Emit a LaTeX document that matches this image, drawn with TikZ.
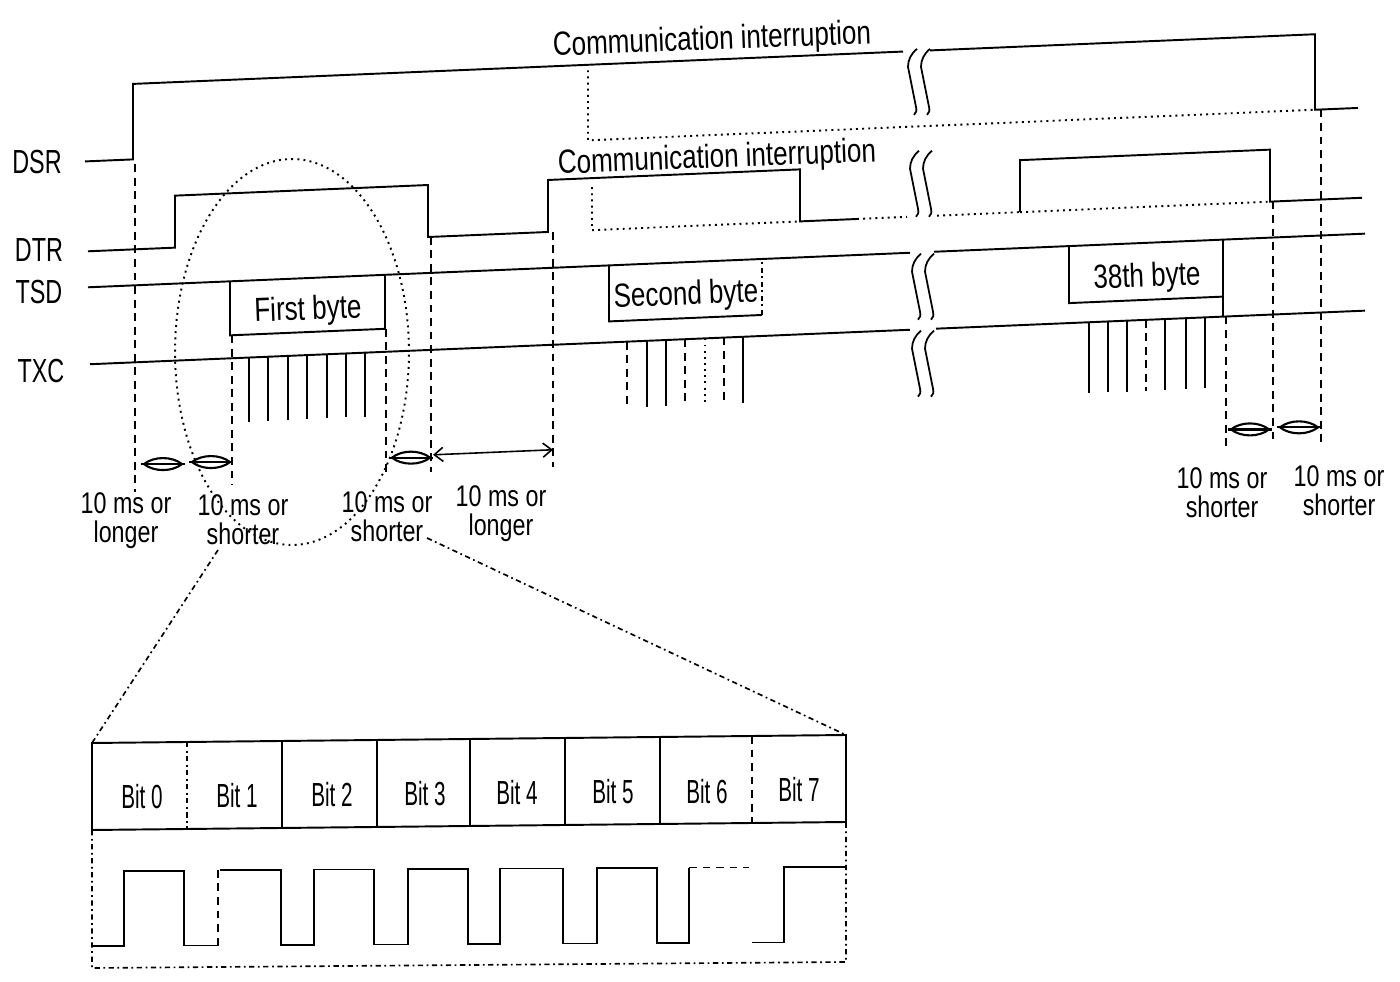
\documentclass[tikz,border=0pt]{standalone}
\usepackage{fontspec}
\setmainfont[FakeStretch=0.78]{Liberation Sans}
\newfontfamily\lblfont[FakeStretch=0.7]{Liberation Sans}
\newfontfamily\bitfont[FakeStretch=0.62]{Liberation Sans}
\usetikzlibrary{arrows.meta}
\begin{document}
\begin{tikzpicture}[x=0.02cm,y=-0.02cm,
  sig/.style={line width=1.1pt, line join=miter},
  pulse/.style={line width=1pt},
  dsh/.style={line width=0.85pt, dash pattern=on 4.5pt off 3.2pt},
  dot/.style={line width=1.1pt, dash pattern=on 1.1pt off 2.4pt},
  ddot/.style={line width=0.95pt, dash pattern=on 3pt off 2pt on 1pt off 2pt},
  lbl/.style={font=\lblfont\fontsize{19}{22}\selectfont, inner sep=0},
  txt/.style={font=\fontsize{19}{22}\selectfont, inner sep=0, rotate=2.2},
  ms/.style={font=\fontsize{17}{16.5}\selectfont, align=center, inner sep=0},
  bit/.style={font=\bitfont\fontsize{19}{22}\selectfont, inner sep=0},
  brk/.pic={
    \draw[line width=1pt] (9,0) .. controls (3,5) and (0,11) .. (0,18) -- (8,58) .. controls (9,62) and (8,64) .. (6,66);
    \draw[line width=1pt] (22,0) .. controls (16,5) and (13,11) .. (13,18) -- (21,58) .. controls (22,62) and (21,64) .. (19,66);},
  lens/.pic={
    \draw[line width=1.3pt] (0,0) -- (44,0);
    \draw[line width=1.2pt] (3,0) .. controls (13,-8) and (31,-8) .. (41,0) .. controls (31,8) and (13,8) .. (3,0);}
]
\useasboundingbox (0,0) rectangle (1400,982);

% ---------------- timing part (skewed like the scan) ----------------
\begin{scope}[cm={1,0.042,0,1,(0,0)}]
  % DSR
  \draw[sig] (85,165) -- (133,165) -- (133,89.5) -- (903,89.5);
  \draw[sig] (930,89.5) -- (1315,89.5) -- (1315,165) -- (1358,165);
  \pic at (908,87) {brk};
  \draw[dot] (588,95) -- (588,165) -- (1313,165);
  % DTR
  \draw[sig] (88,255) -- (175,255) -- (175,203) -- (428,203) -- (428,255) -- (548,255)
             -- (548,203) -- (800,203) -- (800,255) -- (857,255);
  \draw[dot] (857,255) -- (907,255);
  \draw[dot] (937,255) -- (1020,255);
  \draw[sig] (1020,255) -- (1020,203) -- (1270,203) -- (1270,255) -- (1362,255);
  \draw[dot] (592,212) -- (592,255) -- (800,255);
  \draw[dot] (1020,255) -- (1270,255);
  \pic at (910,189) {brk};
  % TSD
  \draw[sig] (88,291) -- (910,291);
  \draw[sig] (934,291) -- (1365,291);
  \pic at (912,292) {brk};
  \draw[sig] (230,291) -- (230,345) -- (385,345) -- (385,291);
  \draw[sig] (609,291) -- (609,347) -- (762,347);
  \draw[ddot] (762,347) -- (762,291);
  \draw[sig] (1069,291) -- (1069,348) -- (1223,348);
  \draw[sig] (1223,291) -- (1223,368);
  % TXC
  \draw[sig] (90,368) -- (910,368);
  \draw[sig] (936,368) -- (1365,368);
  \pic at (912,369) {brk};
  \foreach \x in {249,268,288,307,327,346,365} \draw[pulse] (\x,368) -- (\x,432);
  \foreach \x in {647,666,743} \draw[pulse] (\x,368) -- (\x,434);
  \foreach \x in {627,685,724} \draw[dsh] (\x,368) -- (\x,434);
  \draw[dot] (705,368) -- (705,434);
  \foreach \x in {1089,1108,1127,1165,1186,1205} \draw[pulse] (\x,368) -- (\x,439);
  \draw[dsh] (1146,368) -- (1146,439);
  % dashed guides
  \draw[dsh] (135,170) -- (135,498);
  \draw[dsh] (232,345) -- (232,495);
  \draw[dsh] (386,345) -- (386,488);
  \draw[dsh] (431,255) -- (431,490);
  \draw[dsh] (553,255) -- (553,490);
  \draw[dsh] (1226,368) -- (1226,502);
  \draw[dsh] (1273,255) -- (1273,494);
  \draw[dsh] (1321,165) -- (1321,502);
  % interval marks
  \pic at (141,470) {lens};
  \pic at (189,470) {lens};
  \pic at (389,474) {lens};
  \coordinate (la) at (433,473);
  \coordinate (lb) at (553,473);
  \draw[line width=0.9pt, {Straight Barb[length=5pt,width=8pt]}-{Straight Barb[length=5pt,width=8pt]}] (la) -- (lb);
  \pic at (1228,481) {lens};
  \pic at (1277,481) {lens};
\end{scope}

% ---------------- labels ----------------
\node[lbl] (dsr) at (37,162) {DSR};
\node[lbl] (dtr) at (39,250) {DTR};
\node[lbl] (tsd) at (39,292) {TSD};
\node[lbl] (txc) at (41,371) {TXC};
\node[txt] (ci1) at (712,41) {Communication interruption};
\node[txt] (ci2) at (717,159) {Communication interruption};
\node[txt] (b1) at (308,311) {First byte};
\node[txt] (b2) at (686,296) {Second byte};
\node[txt] (b38) at (1147,278) {38th byte};
\node[ms] (t1) at (126,521) {10 ms or\\longer};
\node[ms] (t2) at (243,520) {10 ms or\\shorter};
\node[ms] (t3) at (387,517) {10 ms or\\shorter};
\node[ms] (t4) at (501,514) {10 ms or\\longer};
\node[ms] (t5) at (1222,493) {10 ms or\\shorter};
\node[ms] (t6) at (1339,491) {10 ms or\\shorter};

% ---------------- magnifier ----------------
\draw[dot] (292,352) ellipse [x radius=2.34cm, y radius=3.86cm];
\coordinate (el) at (218,550);
\coordinate (er) at (427,538);
\coordinate (bl) at (92,743);
\coordinate (br) at (846,735);
\draw[ddot] (el) -- (bl);
\draw[ddot] (er) -- (br);

% bit box
\draw[sig] (92,743) -- (846,735) -- (846,822) -- (92,830) -- cycle;
\draw[ddot] (187,742) -- (187,829);
\foreach \x/\t/\b in {282/741/828,377/740/827,470/739/826,565/738/825,660/737/824}
  \draw[line width=1pt] (\x,\t) -- (\x,\b);
\draw[dsh] (752,736) -- (752,823);
\node[bit] (bit0) at (142,797) {Bit 0};
\node[bit] (bit1) at (237,796) {Bit 1};
\node[bit] (bit2) at (332,795) {Bit 2};
\node[bit] (bit3) at (425,794) {Bit 3};
\node[bit] (bit4) at (517,793) {Bit 4};
\node[bit] (bit5) at (613,792) {Bit 5};
\node[bit] (bit6) at (707,792) {Bit 6};
\node[bit] (bit7) at (799,790) {Bit 7};

% frame below
\draw[ddot] (92,830) -- (92,968) -- (846,962) -- (846,822);

% waveform
\draw[sig] (92,946) -- (124,946) -- (124,871) -- (184,871) -- (184,945.5) -- (218,945.5);
\draw[dsh] (218,945.5) -- (218,870);
\draw[sig] (220,870) -- (281,870) -- (281,945) -- (314,945) -- (314,869.5) -- (374,869.5)
  -- (374,944.5) -- (408,944.5) -- (408,869) -- (468,869) -- (468,944) -- (500,944)
  -- (500,868.5) -- (563,868.5) -- (563,943.5) -- (597,943.5) -- (597,868) -- (657,868)
  -- (657,943) -- (689,943) -- (689,867.5);
\draw[dsh] (689,867.5) -- (749,867.5);
\draw[sig] (752,942.5) -- (784,942.5) -- (784,867) -- (846,867);
\end{tikzpicture}
\end{document}
